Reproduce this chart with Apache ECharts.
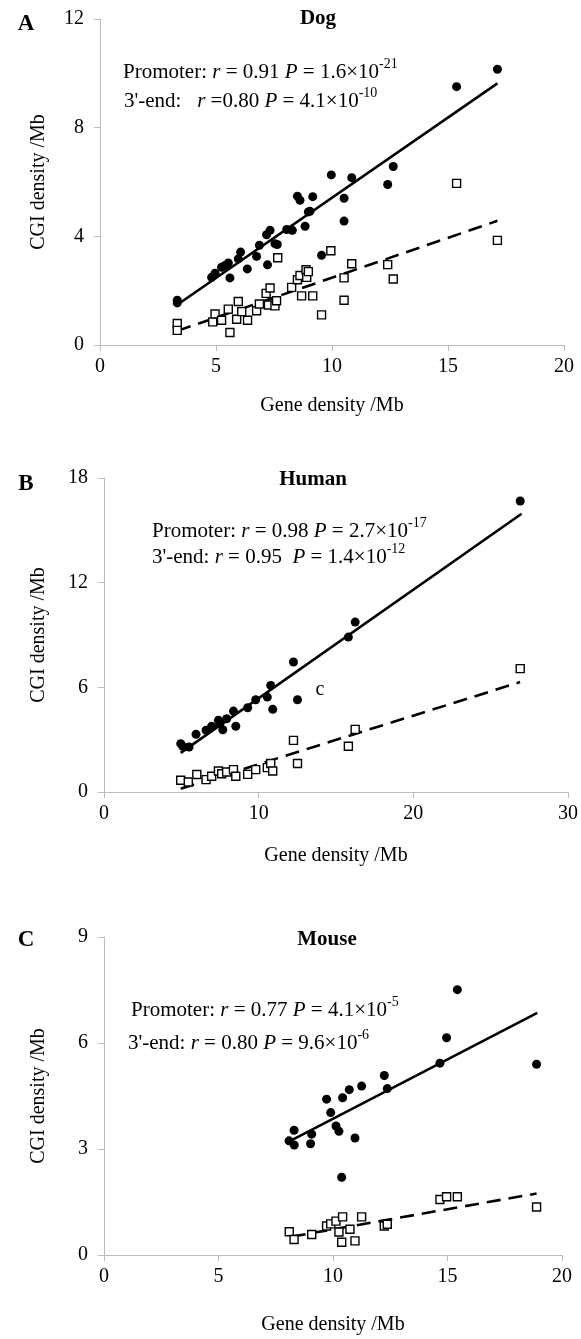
<!DOCTYPE html>
<html>
<head>
<meta charset="utf-8">
<script src="https://cdn.jsdelivr.net/npm/echarts@6/dist/echarts.min.js"></script>
<style>
  html, body { margin: 0; padding: 0; background: #fff; }
  #chart { width: 581px; height: 1339px; }
</style>
</head>
<body>
<div id="chart"></div>
<script>
// CGI density vs gene density — dog / human / mouse, promoter (●) and 3'-end (□)

const SERIF = '"Liberation Serif", "Times New Roman", serif';

// ── data: [gene density /Mb, CGI density /Mb] ──────────────────────────
const dogPromoter = [
  [3.33,1.65],[3.33,1.55],[4.81,2.49],[4.96,2.64],[5.24,2.86],[5.39,2.93],[5.53,3.02],
  [5.60,2.47],[5.96,3.17],[6.06,3.42],[6.35,2.80],[6.75,3.26],[6.87,3.67],[7.18,4.06],
  [7.33,4.22],[7.22,2.95],[7.54,3.73],[7.64,3.70],[8.05,4.25],[8.29,4.22],[8.51,5.48],
  [8.62,5.33],[8.84,4.37],[8.98,4.90],[9.05,4.92],[9.17,5.46],[9.55,3.30],[9.97,6.26],
  [10.85,6.16],[10.52,5.40],[10.52,4.56],[12.40,5.91],[12.64,6.57],[15.37,9.51],[17.13,10.15]
];
const dog3End = [
  [3.33,0.79],[3.33,0.54],[4.86,0.85],[4.96,1.14],[5.24,0.91],[5.53,1.32],[5.60,0.46],
  [5.89,0.95],[5.96,1.60],[6.11,1.23],[6.36,0.91],[6.75,1.26],[6.87,1.51],[7.16,1.90],
  [7.33,2.10],[7.26,1.47],[7.54,1.44],[7.61,1.63],[7.66,3.21],[8.26,2.12],[8.51,2.40],
  [8.62,2.56],[8.88,2.77],[8.91,2.49],[8.98,2.70],[8.69,1.81],[9.17,1.81],[9.55,1.11],
  [9.95,3.47],[10.85,2.99],[10.52,2.47],[10.52,1.65],[12.40,2.96],[12.64,2.43],
  [15.37,5.95],[17.13,3.85]
];
const humanPromoter = [
  [4.96,2.77],[5.09,2.62],[5.50,2.58],[5.95,3.31],[6.60,3.54],[6.96,3.77],[7.40,4.11],
  [7.50,3.92],[7.68,3.57],[7.93,4.20],[8.37,4.64],[8.52,3.77],[9.29,4.83],[9.81,5.29],
  [10.56,5.44],[10.78,6.11],[10.91,4.74],[12.25,7.45],[12.51,5.29],[15.80,8.88],
  [16.24,9.74],[26.91,16.68]
];
const human3End = [
  [4.96,0.67],[5.45,0.57],[6.00,1.00],[6.60,0.71],[6.96,0.90],[7.40,1.20],[7.61,1.05],
  [7.93,1.15],[8.37,1.28],[8.52,0.90],[9.29,1.01],[9.81,1.28],[10.56,1.40],[10.78,1.63],
  [10.91,1.20],[12.25,2.96],[12.51,1.63],[15.80,2.62],[16.24,3.59],[26.91,7.07]
];
const mousePromoter = [
  [8.08,3.23],[8.30,3.53],[8.31,3.11],[9.02,3.15],[9.07,3.42],[9.72,4.41],[9.90,4.03],
  [10.13,3.65],[10.26,3.50],[10.42,4.45],[10.38,2.20],[10.71,4.68],[10.96,3.31],
  [11.25,4.78],[12.24,5.08],[12.37,4.71],[14.67,5.43],[14.96,6.15],[15.43,7.51],[18.89,5.40]
];
const mouse3End = [
  [8.09,0.66],[8.30,0.44],[9.07,0.58],[9.72,0.82],[9.90,0.88],[10.13,0.96],[10.26,0.65],
  [10.42,1.08],[10.38,0.36],[10.74,0.73],[10.96,0.40],[11.25,1.08],[12.24,0.82],
  [12.37,0.87],[14.67,1.57],[14.96,1.65],[15.43,1.65],[18.89,1.36]
];

// fitted lines as drawn (end points)
const dogFitPromoter   = [[3.33,1.48],[17.13,9.63]];
const dogFit3End       = [[3.33,0.52],[17.13,4.57]];
const humanFitPromoter = [[4.96,2.24],[27.0,15.95]];
const humanFit3End     = [[4.96,0.19],[26.9,6.30]];
const mouseFitPromoter = [[8.2,3.25],[18.92,6.85]];
const mouseFit3End     = [[8.2,0.52],[18.89,1.74]];

// axis ranges / steps per panel
const xMax  = [20, 30, 20];
const xStep = [5, 10, 5];
const yMax  = [12, 18, 9];
const yStep = [4, 6, 3];

const titles  = ["Dog", "Human", "Mouse"];
const letters = ["A", "B", "C"];

// ── layout ───────────────────────────────────────────────────────────
const grids = [
  { left: 100, right: 17, top: 19,  height: 326, xGap: 51, yGap: 51 },
  { left: 104, right: 13, top: 478, height: 314, xGap: 54, yGap: 55 },
  { left: 104, right: 19, top: 937, height: 318, xGap: 60, yGap: 55 },
];

const axisClr = "#bdbdbd";
const lbl = { color: "#000", fontFamily: SERIF, fontSize: 20 };

const xAxes = grids.map((g, i) => ({
  gridIndex: i, type: "value", min: 0, max: xMax[i], interval: xStep[i],
  name: "Gene density /Mb", nameLocation: "middle", nameGap: g.xGap,
  nameTextStyle: lbl,
  axisLine: { show: true, onZero: false, lineStyle: { color: axisClr, width: 1 } },
  axisTick: { show: true, inside: false, length: 6, lineStyle: { color: axisClr } },
  axisLabel: { ...lbl, margin: 12 },
  splitLine: { show: false },
}));

const yAxes = grids.map((g, i) => ({
  gridIndex: i, type: "value", min: 0, max: yMax[i], interval: yStep[i],
  name: "CGI density /Mb", nameLocation: "middle", nameGap: g.yGap, nameRotate: 90,
  nameTextStyle: lbl,
  axisLine: { show: true, onZero: false, lineStyle: { color: axisClr, width: 1 } },
  axisTick: { show: true, inside: false, length: 6, lineStyle: { color: axisClr } },
  axisLabel: { ...lbl, margin: 16 },
  splitLine: { show: false },
}));

function dots(data, i) {
  return {
    type: "scatter", xAxisIndex: i, yAxisIndex: i, data,
    symbol: "circle", symbolSize: 9, silent: true,
    itemStyle: { color: "#000", opacity: 1 }, z: 4,
  };
}
function boxes(data, i) {
  return {
    type: "scatter", xAxisIndex: i, yAxisIndex: i, data,
    symbol: "rect", symbolSize: 8, silent: true,
    itemStyle: { color: "#fff", borderColor: "#000", borderWidth: 1.4, opacity: 1 }, z: 5,
  };
}
function fit(data, i, dashed) {
  return {
    type: "line", xAxisIndex: i, yAxisIndex: i, data,
    symbol: "none", silent: true, z: 3,
    lineStyle: { color: "#000", width: 2.6, type: dashed ? [14, 8] : "solid" },
  };
}

const series = [
  dots(dogPromoter, 0), boxes(dog3End, 0), fit(dogFitPromoter, 0, false), fit(dogFit3End, 0, true),
  dots(humanPromoter, 1), boxes(human3End, 1), fit(humanFitPromoter, 1, false), fit(humanFit3End, 1, true),
  dots(mousePromoter, 2), boxes(mouse3End, 2), fit(mouseFitPromoter, 2, false), fit(mouseFit3End, 2, true),
];

// ── text: statistics lines with italic r / P and superscript exponent ──
const rich = {
  n: { fontFamily: SERIF, fontSize: 21, fill: "#000", color: "#000", lineHeight: 30 },
  i: { fontFamily: SERIF, fontSize: 21, fontStyle: "italic", fill: "#000", color: "#000", lineHeight: 30 },
  s: { fontFamily: SERIF, fontSize: 14, fill: "#000", color: "#000", lineHeight: 14, verticalAlign: "top" },
};
function statLine(x, y, label, r, mant, exp) {
  return {
    type: "text", x, y, z: 10,
    style: {
      text: `{n|${label}}{i|r}{n|${r}}{i|P}{n| = ${mant}×10}{s|${exp}}`,
      rich, verticalAlign: "middle", align: "left",
      fontFamily: SERIF, fontSize: 21, fill: "#000",
    },
  };
}
function plain(x, y, text, size, bold, align) {
  return {
    type: "text", x, y, z: 10,
    style: {
      text, fill: "#000", fontFamily: SERIF, fontSize: size,
      fontWeight: bold ? "bold" : "normal",
      align: align || "center", verticalAlign: "middle",
    },
  };
}

const titlePos  = [[318, 19], [313, 480], [327, 940]];
const letterPos = [[26, 24], [26, 484], [26, 940]];

const graphic = [
  ...titles.map((t, i) => plain(titlePos[i][0], titlePos[i][1], t, 21, true)),
  ...letters.map((t, i) => plain(letterPos[i][0], letterPos[i][1], t, 23, true)),
  statLine(123, 72,   "Promoter: ", " = 0.91 ", "1.6", "-21"),
  statLine(124, 101,  "3'-end:   ", " =0.80 ",  "4.1", "-10"),
  statLine(152, 531,  "Promoter: ", " = 0.98 ", "2.7", "-17"),
  statLine(152, 557,  "3'-end: ",   " = 0.95  ", "1.4", "-12"),
  statLine(131, 1010, "Promoter: ", " = 0.77 ", "4.1", "-5"),
  statLine(128, 1043, "3'-end: ",   " = 0.80 ", "9.6", "-6"),
  plain(320, 690, "c", 20, false),
];

const chart = echarts.init(document.getElementById("chart"), null, { renderer: "canvas" });
chart.setOption({
  backgroundColor: "#fff", animation: false,
  grid: grids.map(g => ({ left: g.left, right: g.right, top: g.top, height: g.height, containLabel: false })),
  xAxis: xAxes,
  yAxis: yAxes,
  series,
  graphic,
});
</script>
</body>
</html>
